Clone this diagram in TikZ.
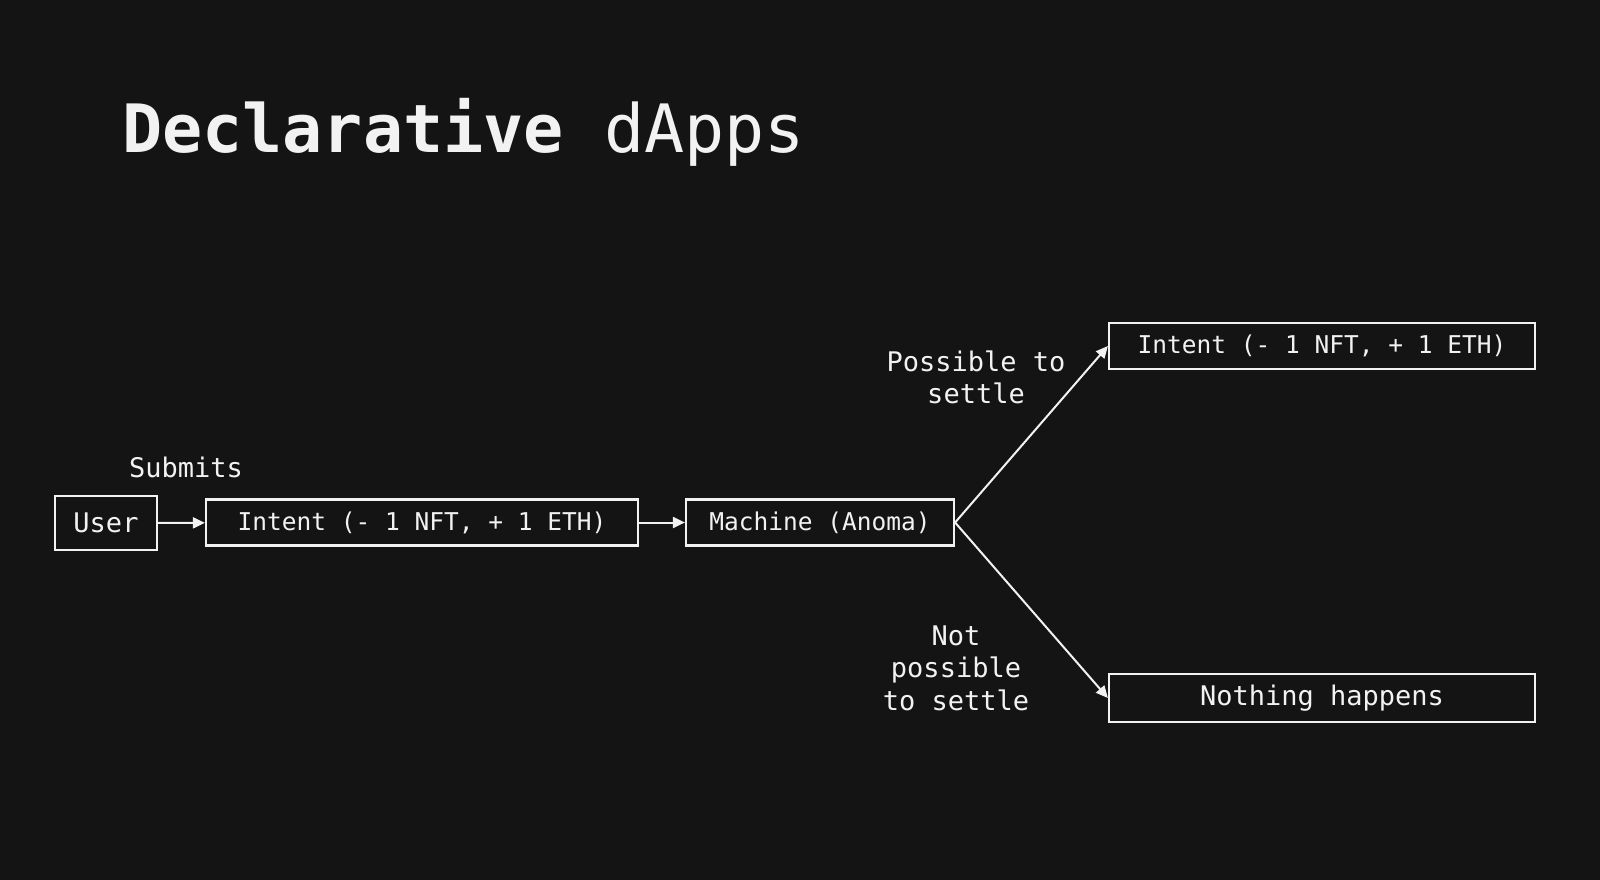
\documentclass[tikz,border=0pt]{standalone}
\usepackage{fontspec}
\setmonofont{DejaVu Sans Mono}
\usetikzlibrary{arrows.meta}
\definecolor{bg}{HTML}{141414}
\definecolor{fg}{HTML}{F2F2F2}
\begin{document}
\begin{tikzpicture}[x=1pt,y=-1pt,
 box/.style={draw=fg, line width=2.2pt, minimum height=46pt, inner sep=0pt, text=fg, font=\ttfamily\fontsize{24.5}{28}\selectfont},
 bigbox/.style={box, font=\ttfamily\fontsize{27}{30}\selectfont},
 lab/.style={text=fg, font=\ttfamily\fontsize{27}{32.5}\selectfont, align=center, inner sep=0pt},
 arr/.style={draw=fg, line width=2pt, -{Triangle[length=12pt,width=11pt]}}]
\fill[bg] (0,0) rectangle (1600,880);
\useasboundingbox (0,0) rectangle (1600,880);
\node[anchor=base west, text=fg, inner sep=0pt, font=\ttfamily\fontsize{66.7}{70}\selectfont] (title) at (122,153) {\textbf{Declarative} dApps};
\node[bigbox, minimum width=102pt, minimum height=54pt] (user) at (106,523) {User};
\node[box, minimum width=432pt] (intent) at (422,522.5) {Intent (- 1 NFT, + 1 ETH)};
\node[box, minimum width=268pt] (machine) at (820,522.5) {Machine (Anoma)};
\node[box, minimum width=426pt] (yes) at (1322,346) {Intent (- 1 NFT, + 1 ETH)};
\node[bigbox, minimum width=426pt, minimum height=48pt] (no) at (1322,698) {Nothing happens};
\node[lab, anchor=west] (submits) at (129,467) {Submits};
\node[lab] (possible) at (976,377.5) {Possible to\\settle};
\node[lab] (notpossible) at (956,668) {Not\\possible\\to settle};
\draw[arr] (user) -- (intent);
\draw[arr] (intent) -- (machine);
\draw[arr] (machine.east) -- (yes.west);
\draw[arr] (machine.east) -- (no.west);
\end{tikzpicture}
\end{document}
